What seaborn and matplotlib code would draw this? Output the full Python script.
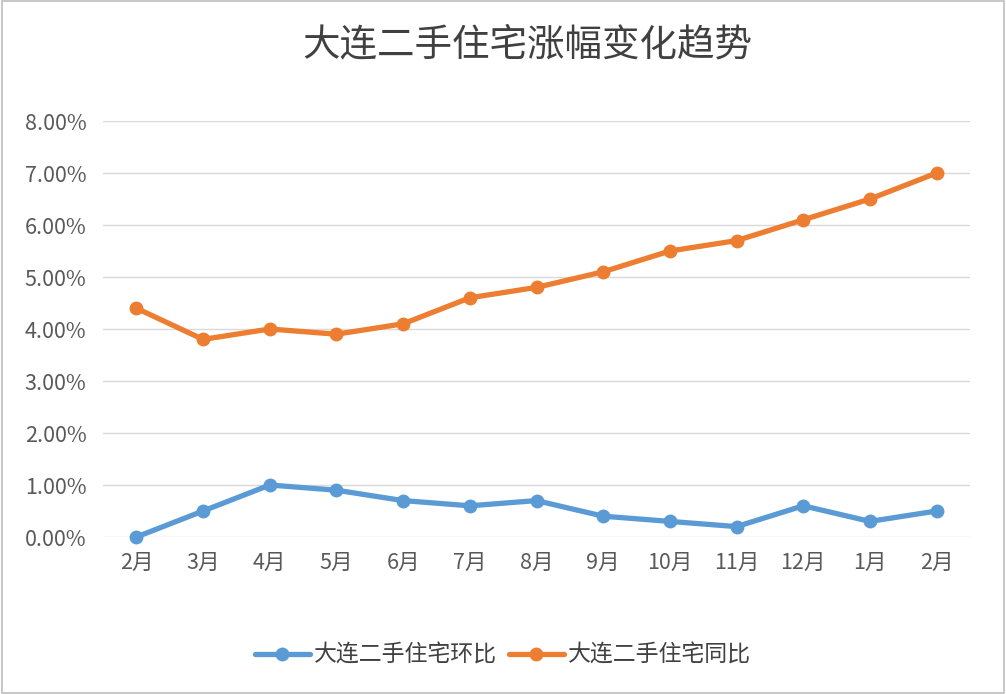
import matplotlib
matplotlib.use("Agg")
import matplotlib.pyplot as plt
import seaborn as sns
import pandas as pd
from matplotlib.patches import Rectangle
from matplotlib.ticker import FuncFormatter

months = ["2月", "3月", "4月", "5月", "6月", "7月", "8月", "9月", "10月", "11月", "12月", "1月", "2月"]
series_mom_name = "大连二手住宅环比"
series_yoy_name = "大连二手住宅同比"
mom = [0.0, 0.5, 1.0, 0.9, 0.7, 0.6, 0.7, 0.4, 0.3, 0.2, 0.6, 0.3, 0.5]
yoy = [4.4, 3.8, 4.0, 3.9, 4.1, 4.6, 4.8, 5.1, 5.5, 5.7, 6.1, 6.5, 7.0]
yticks = [0, 1, 2, 3, 4, 5, 6, 7, 8]
title = "大连二手住宅涨幅变化趋势"

sns.set_theme(style="white")
plt.rcParams['font.family'] = ['Noto Sans CJK SC', 'DejaVu Sans']

df = pd.DataFrame({
    "idx": list(range(len(months))) * 2,
    "value": mom + yoy,
    "series": [series_mom_name] * len(mom) + [series_yoy_name] * len(yoy),
})

fig = plt.figure(figsize=(10.06, 6.94), dpi=100)
fig.patch.set_facecolor("white")
ax = fig.add_axes([103 / 1006, 1 - 537 / 694, (970 - 103) / 1006, (537 - 121) / 694])

palette = {series_mom_name: "#5B9BD5", series_yoy_name: "#ED7D31"}
sns.lineplot(data=df, x="idx", y="value", hue="series", palette=palette,
             marker="o", markersize=10, linewidth=3.8, markeredgewidth=0,
             ax=ax, legend=True, clip_on=False, zorder=3)

ax.set_xlim(-0.5, len(months) - 0.5)
ax.set_ylim(0, 8)
ax.set_yticks(yticks)
ax.yaxis.set_major_formatter(FuncFormatter(lambda v, p: f"{v:.2f}%"))
ax.set_xticks(range(len(months)))
ax.set_xticklabels(months)
ax.grid(axis="y", color="#D9D9D9", linewidth=1)
ax.grid(axis="x", visible=False)
for s in ax.spines.values():
    s.set_visible(False)
ax.tick_params(axis="both", length=0, labelsize=15.5, colors="#595959")
ax.tick_params(axis="x", pad=11)
ax.tick_params(axis="y", pad=12)
for lbl in ax.get_xticklabels() + ax.get_yticklabels():
    lbl.set_fontweight("light")
ax.set_xlabel("")
ax.set_ylabel("")

handles, labels = ax.get_legend_handles_labels()
ax.legend_.remove()
leg = fig.legend(handles, labels, loc="center", bbox_to_anchor=(0.5, 0.056), ncol=2,
                 frameon=False, fontsize=16.5, labelcolor="#404040", handlelength=2.4,
                 handletextpad=0.2, columnspacing=0.5)
for t in leg.get_texts():
    t.set_fontweight("light")

fig.text(527 / 1006, 1 - 45 / 694, title, ha="center", va="center",
         fontsize=27, color="#404040", fontweight="light")

fig.patches.append(Rectangle((0.0015, 0.002), 0.997, 0.996, transform=fig.transFigure,
                             fill=False, edgecolor="#BFBFBF", linewidth=1.2))

fig.savefig("out.png", dpi=100)
